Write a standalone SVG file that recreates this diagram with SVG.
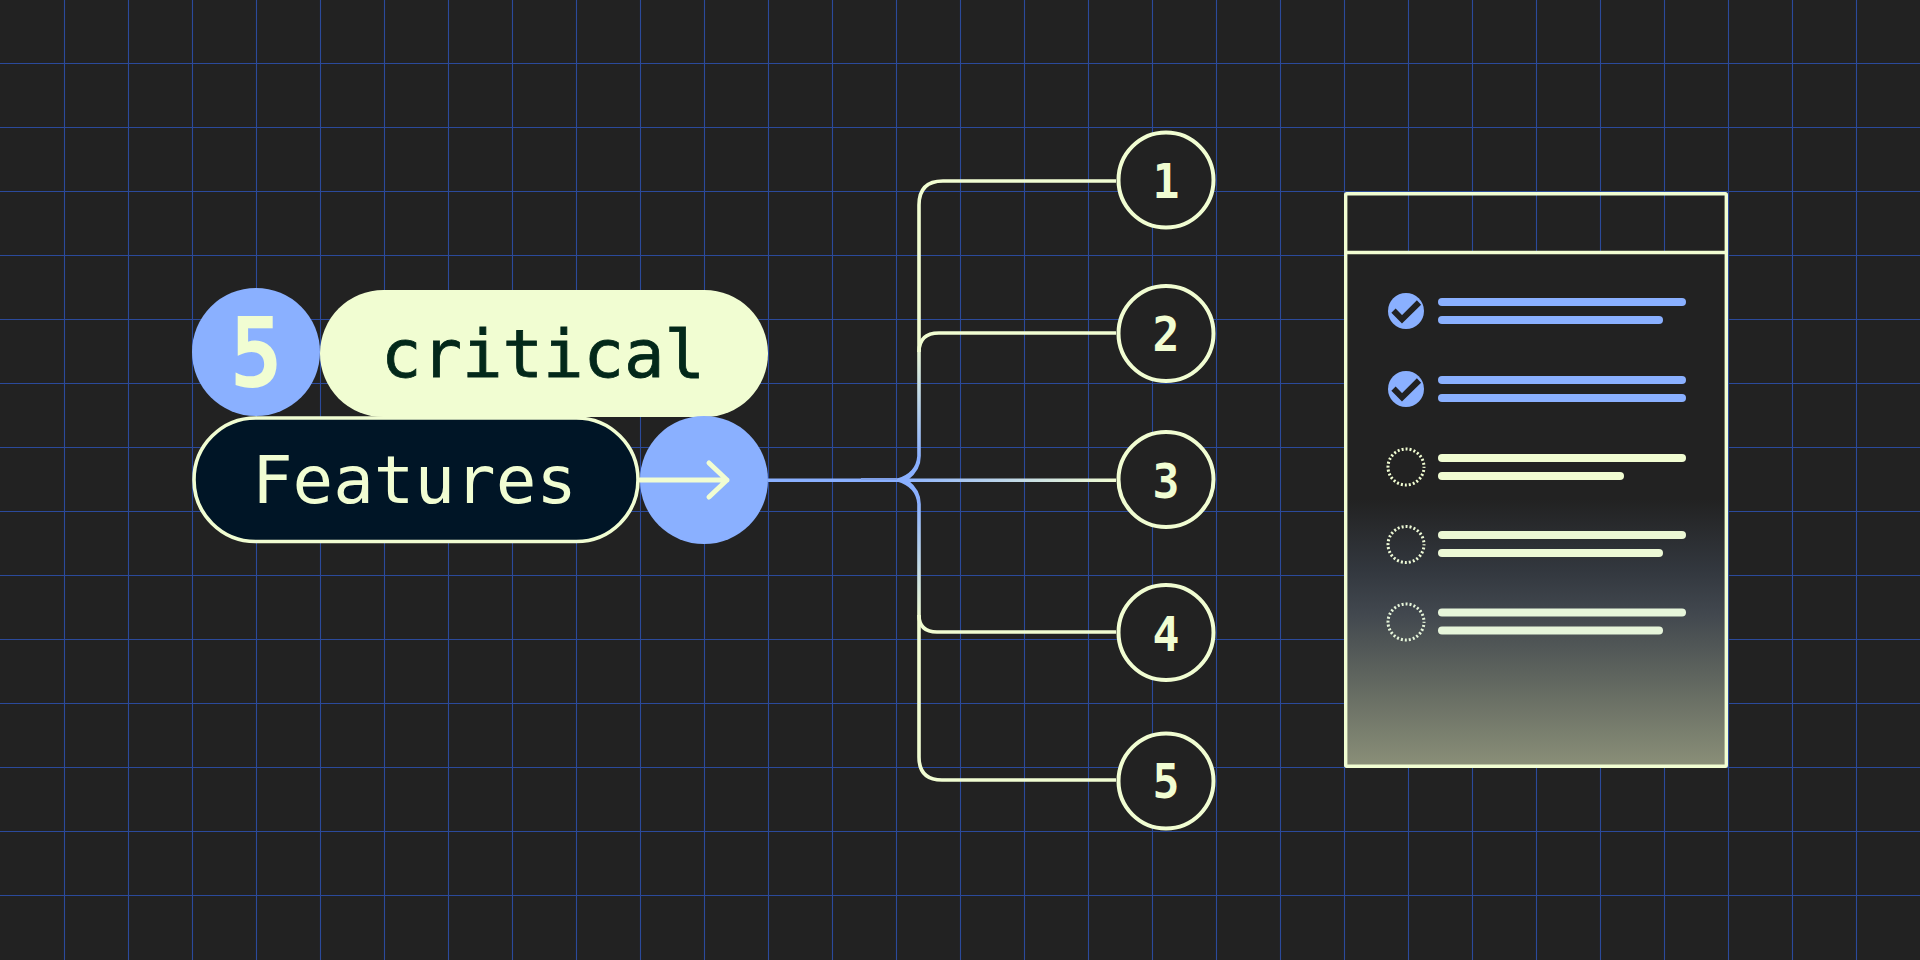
<svg xmlns="http://www.w3.org/2000/svg" width="1920" height="960" viewBox="0 0 1920 960">
<style>
.mono{font-family:"DejaVu Sans Mono","Liberation Mono",monospace}
.num{font-family:"DejaVu Sans Mono","Liberation Mono",monospace;font-size:48px;font-weight:700;fill:#f1fdd2;text-anchor:middle}
.badge{fill:#222;stroke:#f1fdd2;stroke-width:4}
.ln{fill:none;stroke-width:3.6;stroke-linecap:butt}
.ok{fill:#8ab0ff}
.chk{fill:none;stroke:#222;stroke-width:6}
.dot{fill:none;stroke-width:3;stroke-dasharray:2 2.04;stroke-dashoffset:1}
</style>
<defs>
<linearGradient id="gu" gradientUnits="userSpaceOnUse" x1="0" y1="460" x2="0" y2="340"><stop offset="0" stop-color="#8ab0ff"/><stop offset="1" stop-color="#f1fdd2"/></linearGradient>
<linearGradient id="gd" gradientUnits="userSpaceOnUse" x1="0" y1="500" x2="0" y2="620"><stop offset="0" stop-color="#8ab0ff"/><stop offset="1" stop-color="#f1fdd2"/></linearGradient>
<linearGradient id="gh" gradientUnits="userSpaceOnUse" x1="897" y1="0" x2="1116" y2="0"><stop offset="0" stop-color="#8ab0ff"/><stop offset="1" stop-color="#f1fdd2"/></linearGradient>
<linearGradient id="card" gradientUnits="userSpaceOnUse" x1="0" y1="254" x2="0" y2="766"><stop offset="0.48" stop-color="#222222"/><stop offset="0.62" stop-color="#33383f"/><stop offset="0.70" stop-color="#41474e"/><stop offset="0.83" stop-color="#60665f"/><stop offset="1" stop-color="#8a8f78"/></linearGradient>
</defs>
<rect width="1920" height="960" fill="#222222"/>
<path id="grid" fill="none" stroke="#2b4a9b" stroke-width="1.1" d="M64.500 0V960M128.500 0V960M192.500 0V960M256.500 0V960M320.500 0V960M384.500 0V960M448.500 0V960M512.500 0V960M576.500 0V960M640.500 0V960M704.500 0V960M768.500 0V960M832.500 0V960M896.500 0V960M960.500 0V960M1024.500 0V960M1088.500 0V960M1152.500 0V960M1216.500 0V960M1280.500 0V960M1344.500 0V960M1408.500 0V960M1472.500 0V960M1536.500 0V960M1600.500 0V960M1664.500 0V960M1728.500 0V960M1792.500 0V960M1856.500 0V960M0 63.500H1920M0 127.500H1920M0 191.500H1920M0 255.500H1920M0 319.500H1920M0 383.500H1920M0 447.500H1920M0 511.500H1920M0 575.500H1920M0 639.500H1920M0 703.500H1920M0 767.500H1920M0 831.500H1920M0 895.500H1920"/>
<g id="connectors">
<path class="ln" stroke="#8ab0ff" d="M768 480.300H897"/>
<path fill="none" stroke="#7f9fe6" stroke-width="2" d="M861 479H897"/>
<path class="ln" stroke="url(#gh)" d="M897 480.300H1116"/>
<path class="ln" stroke="url(#gu)" d="M1116 181H943Q919 181 919 205V456"/>
<path class="ln" stroke="#f1fdd2" d="M1116 333H939Q919 333 919 352"/>
<path class="ln" stroke="url(#gd)" d="M919 504V757Q919 780 942 780H1116"/>
<path class="ln" stroke="#f1fdd2" d="M919 615Q919 632 937 632H1116"/>
<path fill="#8ab0ff" d="M917.200 456Q916 473 897 478.500L897 481.500Q916 487 917.200 504L920.800 504Q921 490 908 480Q921 470 920.800 456Z"/>
</g>
<g id="count">
<circle cx="256" cy="352" r="64" fill="#8ab0ff"/>
<text class="mono" x="256" y="387" font-size="96" font-weight="700" fill="#f1fdd2" text-anchor="middle" textLength="53" lengthAdjust="spacingAndGlyphs">5</text>
</g>
<g id="critical">
<rect x="320" y="290" width="448" height="127" rx="63.500" fill="#f1fdd2"/>
<text class="mono" x="381" y="377" font-size="66" fill="#03281a" stroke="#03281a" stroke-width="0.8" textLength="324" lengthAdjust="spacingAndGlyphs">critical</text>
</g>
<g id="features">
<rect x="194" y="418" width="444" height="123.500" rx="61.700" fill="#001526" stroke="#f1fdd2" stroke-width="3.600"/>
<text class="mono" x="252" y="503" font-size="66" fill="#f1fdd2" textLength="325" lengthAdjust="spacingAndGlyphs">Features</text>
</g>
<g id="go">
<circle cx="704" cy="480" r="64" fill="#8ab0ff"/>
<path fill="none" stroke="#f1fdd2" stroke-width="5" stroke-linecap="round" stroke-linejoin="round" d="M640 480H727M709 463L727 480L709 497"/>
</g>
<g id="n1"><circle class="badge" cx="1166" cy="180" r="47.500"/><text class="num" x="1166" y="198" textLength="27" lengthAdjust="spacingAndGlyphs">1</text></g>
<g id="n2"><circle class="badge" cx="1166" cy="333.500" r="47.500"/><text class="num" x="1166" y="351" textLength="27" lengthAdjust="spacingAndGlyphs">2</text></g>
<g id="n3"><circle class="badge" cx="1166" cy="479.500" r="47.500"/><text class="num" x="1166" y="498" textLength="27" lengthAdjust="spacingAndGlyphs">3</text></g>
<g id="n4"><circle class="badge" cx="1166" cy="632.500" r="47.500"/><text class="num" x="1166" y="651" textLength="27" lengthAdjust="spacingAndGlyphs">4</text></g>
<g id="n5"><circle class="badge" cx="1166" cy="781" r="47.500"/><text class="num" x="1166" y="798" textLength="27" lengthAdjust="spacingAndGlyphs">5</text></g>
<g id="card-panel">
<rect x="1347" y="254" width="378" height="511" fill="url(#card)"/>
<rect x="1345.700" y="193.700" width="380.600" height="572.600" rx="1" fill="none" stroke="#f1fdd2" stroke-width="3.400"/>
<path d="M1345.500 252.500H1726.500" stroke="#f1fdd2" stroke-width="3.400" fill="none"/>
</g>
<g id="row1"><circle class="ok" cx="1406" cy="311" r="18"/><path class="chk" d="M1393.500 310.700L1402 319.300L1419 302.500"/><rect class="ok" x="1438" y="298" width="248" height="8" rx="4"/><rect class="ok" x="1438" y="316" width="225" height="8" rx="4"/></g>
<g id="row2"><circle class="ok" cx="1406" cy="389" r="18"/><path class="chk" d="M1393.500 388.700L1402 397.300L1419 380.500"/><rect class="ok" x="1438" y="376" width="248" height="8" rx="4"/><rect class="ok" x="1438" y="394" width="248" height="8" rx="4"/></g>
<g id="row3" fill="#f1fdd2"><circle class="dot" stroke="#f1fdd2" cx="1406" cy="467" r="18"/><rect x="1438" y="454" width="248" height="8" rx="4"/><rect x="1438" y="472" width="186" height="8" rx="4"/></g>
<g id="row4" fill="#ecf8d5"><circle class="dot" stroke="#ecf8d5" cx="1406" cy="544.500" r="18"/><rect x="1438" y="531" width="248" height="8" rx="4"/><rect x="1438" y="549" width="225" height="8" rx="4"/></g>
<g id="row5" fill="#e6f5da"><circle class="dot" stroke="#e6f5da" cx="1406" cy="622" r="18"/><rect x="1438" y="608.500" width="248" height="8" rx="4"/><rect x="1438" y="626.500" width="225" height="8" rx="4"/></g>
</svg>
